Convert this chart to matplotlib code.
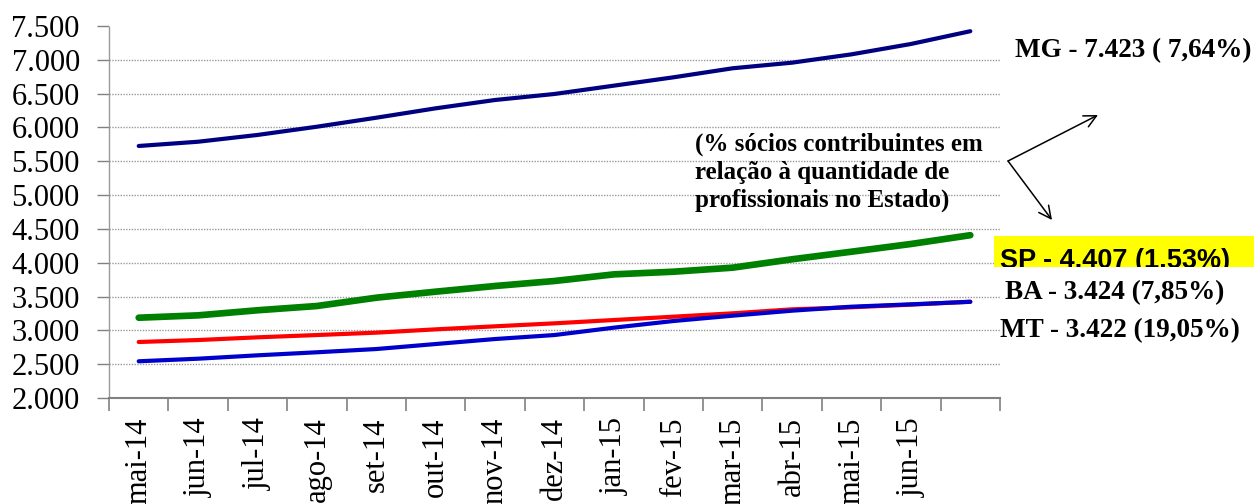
import numpy as np
import matplotlib
matplotlib.use("Agg")
import matplotlib.pyplot as plt
from matplotlib.ticker import FuncFormatter
from matplotlib.transforms import Bbox, TransformedBbox, IdentityTransform
from matplotlib.patches import Rectangle

# ---------------- data ----------------
categories = ['mai-14', 'jun-14', 'jul-14', 'ago-14', 'set-14', 'out-14', 'nov-14',
              'dez-14', 'jan-15', 'fev-15', 'mar-15', 'abr-15', 'mai-15', 'jun-15', 'jul-15']
tick_labels = ['mai-14', 'jun-14', 'jul-14', 'ago-14', 'set-14', 'out-14', 'nov-14',
               'dez-14', 'jan-15', 'fev-15', 'mar-15', 'abr-15', 'mai-15', 'jun-15', '']
mg = [5726, 5789, 5889, 6011, 6144, 6283, 6406, 6495, 6618, 6741, 6875, 6958, 7081, 7234, 7423]
sp = [3187, 3222, 3297, 3360, 3483, 3572, 3656, 3730, 3828, 3867, 3927, 4051, 4163, 4277, 4407]
ba = [2828, 2857, 2897, 2931, 2966, 3015, 3060, 3104, 3153, 3202, 3252, 3311, 3341, 3380, 3424]
mt = [2543, 2581, 2631, 2676, 2724, 2798, 2872, 2931, 3040, 3138, 3217, 3291, 3350, 3385, 3422]
y_ticks = [2000, 2500, 3000, 3500, 4000, 4500, 5000, 5500, 6000, 6500, 7000, 7500]

label_mg = 'MG - 7.423 ( 7,64%)'
label_sp = 'SP - 4.407 (1,53%)'
label_ba = 'BA - 3.424 (7,85%)'
label_mt = 'MT - 3.422 (19,05%)'
note = '(% sócios contribuintes em\nrelação à quantidade de\nprofissionais no Estado)'

# ---------------- figure ----------------
W, H = 1254, 504
fig = plt.figure(figsize=(W / 100, H / 100), dpi=100)
ax = fig.add_axes([109 / W, 1 - 398 / H, 891 / W, 372 / H])

x = np.arange(len(categories))
ax.plot(x, mg, color='#000080', lw=3.0, solid_capstyle='round', zorder=3)
ax.plot(x, sp, color='#008000', lw=4.8, solid_capstyle='round', zorder=3)
ax.plot(x, ba, color='#FF0000', lw=3.0, solid_capstyle='round', zorder=3)
ax.plot(x, mt, color='#0000CC', lw=3.0, solid_capstyle='round', zorder=4)

ax.set_xlim(-0.5, len(categories) - 0.5)
ax.set_ylim(y_ticks[0], y_ticks[-1])

serif = ['Liberation Serif', 'DejaVu Serif']

ax.set_yticks(y_ticks)
ax.yaxis.set_major_formatter(FuncFormatter(lambda v, p: f"{v:,.0f}".replace(',', '.')))
ax.tick_params(axis='y', length=9, width=1, color='#808080', pad=12)
for lab in ax.get_yticklabels():
    lab.set_fontfamily(serif)
    lab.set_fontsize(22)

ax.set_xticks(x)
ax.set_xticklabels(tick_labels, rotation=90, fontsize=22, fontfamily=serif)
ax.tick_params(axis='x', which='major', length=0, pad=14)
ax.set_xticks(np.arange(-0.5, len(categories), 1), minor=True)
ax.tick_params(axis='x', which='minor', length=9, width=1.2, color='#808080')

ax.yaxis.grid(True, linestyle=(0, (1, 1)), color='#9a9a9a', lw=1.0)
gl = ax.yaxis.get_gridlines()
gl[-1].set_visible(False)

for s in ['top', 'right']:
    ax.spines[s].set_visible(False)
ax.spines['left'].set_linestyle((0, (1, 1)))
ax.spines['left'].set_color('#9a9a9a')
ax.spines['left'].set_linewidth(1.0)
ax.spines['bottom'].set_color('#808080')
ax.spines['bottom'].set_linewidth(1.5)

# ---------------- annotations ----------------
bold_serif = dict(fontfamily=serif, fontweight='bold', fontsize=19.5, color='black')

fig.text(1015, H - 57, label_mg, transform=IdentityTransform(), va='baseline', ha='left', **bold_serif)
fig.text(1005, H - 299, label_ba, transform=IdentityTransform(), va='baseline', ha='left', **bold_serif)
fig.text(1000, H - 337, label_mt, transform=IdentityTransform(), va='baseline', ha='left', **bold_serif)

# SP label on yellow band, clipped at the band's bottom
box = Rectangle((994, H - 267), W - 994, 31, transform=IdentityTransform(),
                facecolor='#FFFF00', edgecolor='none', zorder=5)
fig.patches.append(box)
t_sp = fig.text(1000, H - 268, label_sp, transform=IdentityTransform(), va='baseline', ha='left',
                fontfamily=['Liberation Sans', 'DejaVu Sans'], fontweight='bold', fontsize=19.5,
                color='black', zorder=6)
t_sp.set_clip_box(TransformedBbox(Bbox.from_extents(994, H - 267, W, H - 236), IdentityTransform()))
t_sp.set_clip_on(True)

# multi-line note: baseline alignment refers to the last line here
fig.text(695, H - 207, note, transform=IdentityTransform(), va='baseline', ha='left',
         fontfamily=serif, fontweight='bold', fontsize=18, linespacing=1.29)

arrow_kw = dict(arrowstyle='->', color='black', lw=1.1, mutation_scale=22, shrinkA=0, shrinkB=0)
ax.annotate('', xy=(1098, H - 115), xytext=(1008, H - 161),
            xycoords='figure pixels', textcoords='figure pixels', arrowprops=arrow_kw,
            annotation_clip=False)
ax.annotate('', xy=(1052, H - 220), xytext=(1008, H - 161),
            xycoords='figure pixels', textcoords='figure pixels', arrowprops=arrow_kw,
            annotation_clip=False)

fig.savefig('out.png', dpi=100)
